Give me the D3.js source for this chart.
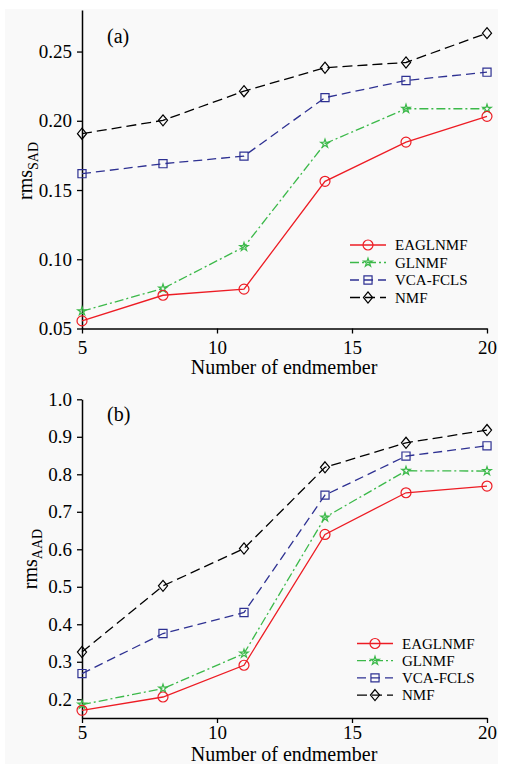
<!DOCTYPE html>
<html>
<head>
<meta charset="utf-8">
<script src="https://cdn.jsdelivr.net/npm/d3@7"></script>
<style>
  body { margin: 0; background: #fff; }
  text { font-family: "Liberation Serif", "Times New Roman", serif; fill: #000; }
</style>
</head>
<body>
<script>
// data
var endmembers = [5, 8, 11, 14, 17, 20];
var methods = ["EAGLNMF", "GLNMF", "VCA-FCLS", "NMF"];

var sadEAGLNMF = [0.0555, 0.074, 0.0784, 0.1563, 0.1846, 0.2032];
var sadGLNMF = [0.0625, 0.0789, 0.1089, 0.1835, 0.2087, 0.2087];
var sadVCA = [0.1618, 0.169, 0.1745, 0.2167, 0.2291, 0.2351];
var sadNMF = [0.1907, 0.2003, 0.2214, 0.2383, 0.2421, 0.2633];

var aadEAGLNMF = [0.1706, 0.206, 0.2907, 0.6396, 0.7507, 0.7686];
var aadGLNMF = [0.1858, 0.2285, 0.3219, 0.685, 0.8094, 0.8086];
var aadVCA = [0.2685, 0.3753, 0.4314, 0.7445, 0.8486, 0.876];
var aadNMF = [0.326, 0.5024, 0.602, 0.8185, 0.884, 0.918];

var xTicks = [5, 10, 15, 20];
var sadTicks = [0.05, 0.10, 0.15, 0.20, 0.25];
var aadTicks = [0.2, 0.3, 0.4, 0.5, 0.6, 0.7, 0.8, 0.9, 1.0];

var width = 507, height = 764;

var colors = ["#ed1c24", "#3cb94a", "#2e3192", "#000000"];
var dashes = [null, "9,3,2,3", "9,5", "10,5"];

// custom open diamond, a bit wider than d3's
var diamond = {
  draw: function(ctx, size) {
    var h = Math.sqrt(size) * 0.62, w = h * 0.82;
    ctx.moveTo(0, -h); ctx.lineTo(w, 0); ctx.lineTo(0, h); ctx.lineTo(-w, 0); ctx.closePath();
  }
};
var symbols = [
  d3.symbol().type(d3.symbolCircle).size(78),
  d3.symbol().type(d3.symbolStar).size(22),
  d3.symbol().type(d3.symbolSquare).size(66),
  d3.symbol().type(diamond).size(80)
];

var svg = d3.select("body").append("svg")
    .attr("width", width)
    .attr("height", height);

// light grey page behind the figure
svg.append("rect")
    .attr("x", 5).attr("y", 9)
    .attr("width", 493).attr("height", height - 9)
    .attr("fill", "#f9f9f9");

function drawPanel(p) {
  var x = d3.scaleLinear().domain([5, 20]).range([82, 487]);
  var y = d3.scaleLinear().domain(p.domain).range(p.yRange);

  var g = svg.append("g");

  // x axis
  var xa = g.append("g")
      .attr("transform", "translate(0," + p.yRange[0] + ")")
      .call(d3.axisBottom(x).tickValues(xTicks).tickFormat(d3.format("d"))
        .tickSize(5).tickSizeOuter(0).tickPadding(p.xPad));
  // y axis
  var ya = g.append("g")
      .attr("transform", "translate(82,0)")
      .call(d3.axisLeft(y).tickValues(p.ticks).tickFormat(d3.format(p.fmt))
        .tickSize(5).tickSizeOuter(0).tickPadding(5));

  [xa, ya].forEach(function(a) {
    a.attr("font-family", null);
    a.select(".domain").attr("stroke", "#000").attr("stroke-width", 1.5);
    a.selectAll(".tick line").attr("stroke", "#000").attr("stroke-width", 1.3);
    a.selectAll(".tick text")
      .attr("fill", "#000")
      .style("font-family", "'Liberation Serif', serif")
      .style("font-size", "19px");
  });

  // axis titles
  g.append("text")
      .attr("x", 284).attr("y", p.xLabelY)
      .attr("text-anchor", "middle")
      .style("font-size", "20px")
      .text("Number of endmember");

  var yl = g.append("text")
      .attr("transform", "translate(" + p.yLabelX + "," + p.yLabelY + ") rotate(-90)")
      .attr("text-anchor", "middle")
      .style("font-size", "20px");
  yl.append("tspan").text("rms");
  yl.append("tspan").attr("dy", p.subDy).style("font-size", "14px").text(p.sub);

  g.append("text")
      .attr("x", 107).attr("y", p.tagY)
      .style("font-size", "20px")
      .text(p.tag);

  var line = d3.line()
      .x(function(d, i) { return x(endmembers[i]); })
      .y(function(d) { return y(d); });

  // draw back to front so red sits on top
  for (var k = p.series.length - 1; k >= 0; k--) {
    var s = p.series[k];
    g.append("path")
        .datum(s)
        .attr("fill", "none")
        .attr("stroke", colors[k])
        .attr("stroke-width", 1.3)
        .attr("stroke-dasharray", dashes[k])
        .attr("d", line);

    g.selectAll(null)
        .data(s)
      .enter().append("path")
        .attr("transform", function(d, i) { return "translate(" + x(endmembers[i]) + "," + y(d) + ")"; })
        .attr("d", symbols[k])
        .attr("fill", "none")
        .attr("stroke", colors[k])
        .attr("stroke-width", 1.2);
  }

  // legend
  var lg = g.append("g");
  methods.forEach(function(m, k) {
    var ry = p.legY + k * p.legStep;
    lg.append("line")
        .attr("x1", p.legX).attr("x2", p.legX + 36)
        .attr("y1", ry).attr("y2", ry)
        .attr("stroke", colors[k])
        .attr("stroke-width", 1.3)
        .attr("stroke-dasharray", dashes[k]);
    lg.append("path")
        .attr("transform", "translate(" + (p.legX + 18) + "," + ry + ")")
        .attr("d", symbols[k])
        .attr("fill", "none")
        .attr("stroke", colors[k])
        .attr("stroke-width", 1.2);
    lg.append("text")
        .attr("x", p.legX + 45).attr("y", ry + 5)
        .style("font-size", "15px")
        .text(m);
  });
}

drawPanel({
  domain: [0.05, 0.28], yRange: [328.5, 10],
  ticks: sadTicks, fmt: ".2f", xPad: 7,
  xLabelY: 374, yLabelX: 32, yLabelY: 171, sub: "SAD", subDy: 6,
  tag: "(a)", tagY: 43,
  legX: 350, legY: 245, legStep: 17.5,
  series: [sadEAGLNMF, sadGLNMF, sadVCA, sadNMF]
});

drawPanel({
  domain: [0.15, 1.0], yRange: [718, 399.3],
  ticks: aadTicks, fmt: ".1f", xPad: 2.5,
  xLabelY: 761, yLabelX: 37, yLabelY: 559, sub: "AAD", subDy: 5,
  tag: "(b)", tagY: 421,
  legX: 357, legY: 643.5, legStep: 17.2,
  series: [aadEAGLNMF, aadGLNMF, aadVCA, aadNMF]
});
</script>
</body>
</html>
